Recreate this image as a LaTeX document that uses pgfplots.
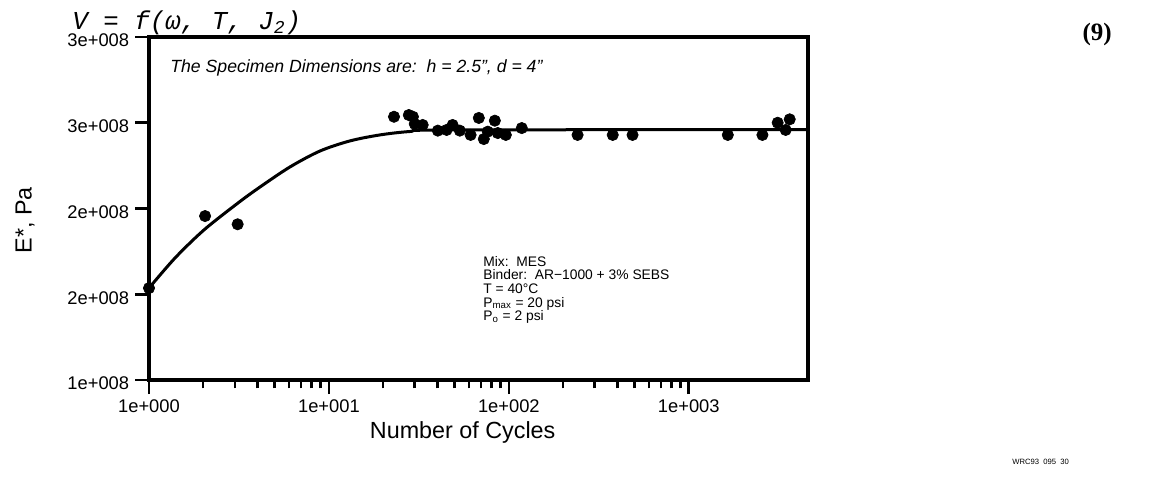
\documentclass[border=0pt]{standalone}
\usepackage{fontspec}
\setmainfont{Liberation Sans}
\newfontfamily\monofont{Liberation Mono}
\newfontfamily\seriffont{Liberation Serif}
\usepackage{pgfplots}
\pgfplotsset{compat=1.18}

\begin{document}
\begin{tikzpicture}
\useasboundingbox (-89.4pt,-69pt) rectangle (616.2pt,228pt);
\begin{axis}[
    at={(0,0)}, anchor=south west,
    scale only axis,
    width=395.4pt, height=205.8pt,
    xmode=log, xmin=1, xmax=4600,
    ymin=1e8, ymax=3e8,
    xtick={1,10,100,1000},
    xticklabels={1e+000,1e+001,1e+002,1e+003},
    ytick={1e8,1.5e8,2e8,2.5e8,3e8},
    yticklabels={1e+008,2e+008,2e+008,3e+008,3e+008},
    scaled y ticks=false,
    tick pos=left, tick align=outside,
    major tick length=8.4pt, minor tick length=5pt,
    tick style={black, line width=1.6pt},
    axis line style={line width=2.4pt},
    ticklabel style={font=\fontsize{11}{13}\selectfont},
    yticklabel style={yshift=-2.2pt},
    xlabel={Number of Cycles},
    ylabel={E*, Pa},
    label style={font=\fontsize{14}{16}\selectfont},
    xlabel style={at={(axis description cs:0.476,-0.152)}, anchor=center},
    ylabel style={at={(axis description cs:-0.188,0.466)}, anchor=center},
    clip=false,
]
% fitted curve
\addplot[black, line width=1.8pt, smooth] coordinates {
    (1,1.536e8) (1.394,1.711e8) (2.021,1.875e8) (3.123,2.032e8)
    (4.136,2.125e8) (6.07,2.242e8) (8.91,2.335e8) (13.08,2.394e8)
    (19.2,2.429e8) (28.2,2.449e8) (47.0,2.458e8) (4600,2.460e8)
};
% measured points
\addplot[only marks, mark=*, mark size=3.4pt, black] coordinates {
    (1,1.536e8) (2.05,1.956e8) (3.11,1.908e8)
    (23.0,2.535e8) (27.8,2.545e8) (29.3,2.535e8) (30.0,2.493e8)
    (33.2,2.487e8) (40.3,2.454e8) (45.1,2.458e8) (48.7,2.487e8)
    (53.4,2.454e8) (61.3,2.429e8) (68.1,2.528e8) (72.6,2.405e8)
    (76.4,2.448e8) (83.6,2.512e8) (86.8,2.440e8) (96.2,2.429e8)
    (118,2.469e8) (241,2.429e8) (378,2.429e8) (487,2.429e8)
    (1648,2.429e8) (2567,2.429e8) (3120,2.500e8) (3456,2.458e8)
    (3640,2.520e8)
};
\end{axis}

\node[anchor=base west, inner sep=0pt, font=\fontsize{10.6}{12}\selectfont\itshape] at (12.6pt,184.2pt)
    {The Specimen Dimensions are:\ \ h = 2.5", d = 4"};

\begin{scope}[every node/.style={anchor=base west, inner sep=0pt, font=\fontsize{8.3}{9}\selectfont}]
\node at (200.4pt,68.4pt) {Mix:\ \ MES};
\node at (200.4pt,60.2pt) {Binder:\ \ AR−1000 + 3\% SEBS};
\node at (200.4pt,52.0pt) {T = 40°C};
\node at (200.4pt,43.8pt) {P\textsubscript{max} = 20 psi};
\node at (200.4pt,35.6pt) {P\textsubscript{o} = 2 psi};
\end{scope}

\node[anchor=base west, inner sep=0pt, font=\fontsize{15.5}{17}\selectfont\monofont\itshape] at (-46.2pt,210pt)
    {V = f(ω, T, J\textsubscript{2})};
\node[anchor=base east, inner sep=0pt, font=\fontsize{15}{17}\selectfont\seriffont\bfseries] at (577.8pt,203.4pt) {(9)};
\node[font=\fontsize{4.6}{6}\selectfont] at (535pt,-49.2pt) {WRC93\ \ 095\ \ 30};
\end{tikzpicture}
\end{document}
